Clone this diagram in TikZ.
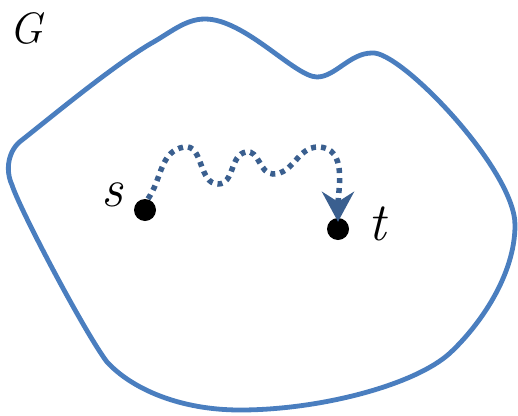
\documentclass[tikz,border=0pt]{standalone}
\usepackage{fontspec}
\usepackage{tikz}
\usetikzlibrary{arrows.meta}
\definecolor{outlineblue}{HTML}{4A7EBF}
\definecolor{walkblue}{HTML}{3A5F8F}

\begin{document}
\begin{tikzpicture}[x=1pt, y=-1pt,
  vertex/.style={circle, fill=black, inner sep=0pt, minimum size=22pt},
  lbl/.style={font=\fontsize{44}{50}\selectfont\itshape, inner sep=0pt},
  vlbl/.style={font=\fontsize{54}{60}\selectfont\itshape, inner sep=0pt},
  walk/.style={walkblue, line width=5.5pt, dash pattern=on 5pt off 5pt,
               -{Stealth[length=30pt, width=32pt, inset=10pt]}}]
\useasboundingbox (0,0) rectangle (518,415);
% the graph G
\draw[outlineblue, line width=4.8pt]
  (205,19) .. controls (245,19) and (295,77) .. (317,77)
  .. controls (335,77) and (350,53) .. (372,53)
  .. controls (400,50) and (515,170) .. (515,225)
  .. controls (515,275) and (480,325) .. (450,353)
  .. controls (415,385) and (320,410) .. (240,410)
  .. controls (180,410) and (132,389) .. (107,362)
  .. controls (85,333) and (20,210) .. (12,185)
  .. controls (5,170) and (8,150) .. (22,140)
  .. controls (50,118) and (110,68) .. (150,44)
  .. controls (170,33) and (185,19) .. cycle;
\node[lbl] (G) at (26,28) {G};
% the two vertices
\node[vertex] (s) at (145,210) {};
\node[vertex] (t) at (338,229) {};
\node[vlbl] (sname) at (112,195) {s};
\node[vlbl] (tname) at (377,224) {t};
% walk from s to t
\coordinate (p1) at (184,147);
\coordinate (p2) at (218,184);
\coordinate (p3) at (246,152);
\coordinate (p4) at (273,174);
\coordinate (p5) at (318,147);
\draw[walk] ([xshift=3pt]s.north) to[out=55, in=190] (p1)
  to[out=10, in=180] (p2) to[out=0, in=190] (p3)
  to[out=10, in=180] (p4) to[out=0, in=180] (p5)
  to[out=0, in=90] ([yshift=-4pt]t.north);
\end{tikzpicture}
\end{document}
